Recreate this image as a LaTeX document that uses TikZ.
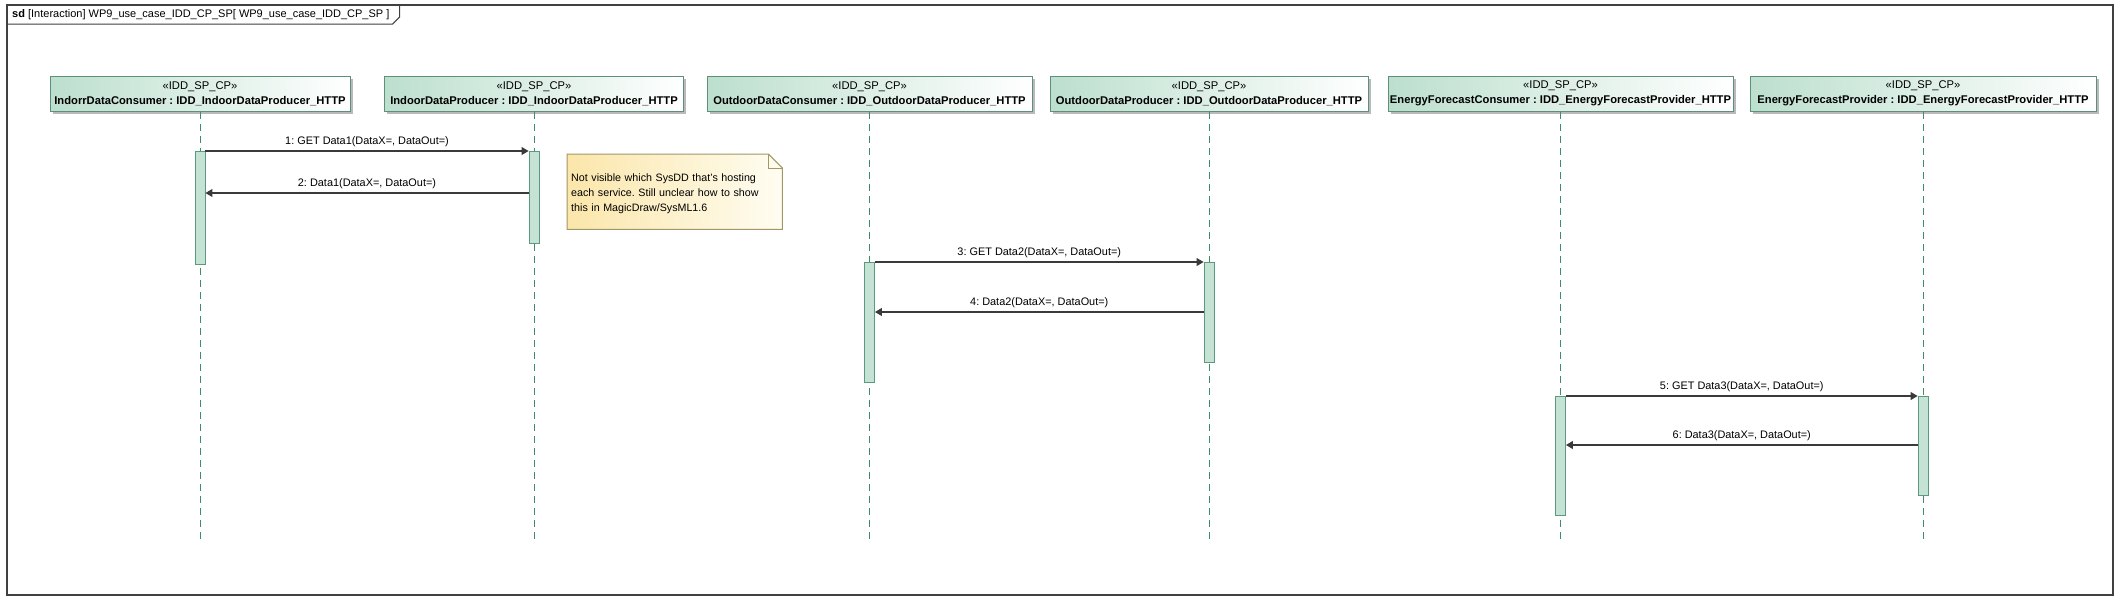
\documentclass[tikz,border=0pt]{standalone}
\usepackage{fontspec}
\setmainfont{Liberation Sans}
\usetikzlibrary{shadows,arrows.meta,backgrounds}
\definecolor{frameC}{HTML}{404040}
\definecolor{headL}{HTML}{BCDFCE}
\definecolor{headB}{HTML}{5E8F7B}
\definecolor{lifeC}{HTML}{3E8E6E}
\definecolor{barF}{HTML}{C4E3D4}
\definecolor{barB}{HTML}{5C9A7F}
\definecolor{noteL}{HTML}{FBE6AA}
\definecolor{noteR}{HTML}{FFFDF2}
\definecolor{noteB}{HTML}{A39766}
\definecolor{msgC}{HTML}{3A3A3A}
\tikzset{
  headbox/.style={draw=headB, line width=1pt, left color=headL, right color=white,
    minimum height=35pt, inner sep=0pt, align=center,
    font=\fontsize{11.2}{15}\selectfont,
    drop shadow={shadow xshift=2.5pt, shadow yshift=-2.5pt, fill=black!45, opacity=0.6}},
  lifeline/.style={draw=lifeC, line width=0.8pt, dash pattern=on 7pt off 5pt},
  actbar/.style={draw=barB, fill=barF, line width=0.9pt, minimum width=10pt, inner sep=0pt, anchor=north},
  msg/.style={draw=msgC, line width=1.1pt, -{Triangle[length=7pt,width=8pt]}},
  msglabel/.style={midway, above=2.5pt, font=\fontsize{10.9}{12}\selectfont, inner sep=1pt},
  framebox/.style={draw=frameC, line width=1.5pt},
  notetext/.style={anchor=north west, minimum width=215pt, minimum height=75pt, text width=207pt,
    inner xsep=4pt, inner ysep=0pt, align=left, font=\fontsize{10.7}{15}\selectfont}
}
\begin{document}
\frenchspacing
\begin{tikzpicture}[x=1pt,y=-1pt]
\useasboundingbox (0,0) rectangle (2119,600);
\begin{scope}[on background layer]
\fill[white] (0,0) rectangle (2119,600);
\end{scope}
% frame
\draw[framebox] (7,5) rectangle (2113,595);
\node[anchor=west, inner sep=0pt, font=\fontsize{11}{12}\selectfont] (title) at (12,14.5)
  {\textbf{sd} [Interaction] WP9\_use\_case\_IDD\_CP\_SP[ WP9\_use\_case\_IDD\_CP\_SP ]};
\coordinate (tabA) at ([xshift=3pt]title.east |- 0,24);
\coordinate (tabB) at ([xshift=10pt]title.east |- 0,17);
\coordinate (tabC) at ([xshift=10pt]title.east |- 0,5);
\draw[draw=frameC, line width=1pt] (7,24) -- (tabA) -- (tabB) -- (tabC);

% lifeline heads
\node[headbox, minimum width=300pt] (h1) at (200,93.5) {«IDD\_SP\_CP»\\\textbf{IndorrDataConsumer : IDD\_IndoorDataProducer\_HTTP}};
\node[headbox, minimum width=299pt] (h2) at (534,93.5) {«IDD\_SP\_CP»\\\textbf{IndoorDataProducer : IDD\_IndoorDataProducer\_HTTP}};
\node[headbox, minimum width=325pt] (h3) at (869.5,93.5) {«IDD\_SP\_CP»\\\textbf{OutdoorDataConsumer : IDD\_OutdoorDataProducer\_HTTP}};
\node[headbox, minimum width=318pt] (h4) at (1209,93.5) {«IDD\_SP\_CP»\\\textbf{OutdoorDataProducer : IDD\_OutdoorDataProducer\_HTTP}};
\node[headbox, minimum width=345pt] (h5) at (1560.5,93.5) {«IDD\_SP\_CP»\\\textbf{EnergyForecastConsumer : IDD\_EnergyForecastProvider\_HTTP}};
\node[headbox, minimum width=346pt] (h6) at (1923,93.5) {«IDD\_SP\_CP»\\\textbf{EnergyForecastProvider : IDD\_EnergyForecastProvider\_HTTP}};

% lifeline ends
\coordinate (e1) at (200,540);
\coordinate (e2) at (534,540);
\coordinate (e3) at (869.5,540);
\coordinate (e4) at (1209,540);
\coordinate (e5) at (1560.5,540);
\coordinate (e6) at (1923,540);
\foreach \i in {1,...,6} {\draw[lifeline] (h\i.south) -- (e\i);}

% activation bars
\node[actbar, minimum height=113pt] (b1) at (200,151) {};
\node[actbar, minimum height=92pt] (b2) at (534,151) {};
\node[actbar, minimum height=120pt] (b3) at (869.5,262) {};
\node[actbar, minimum height=100pt] (b4) at (1209,262) {};
\node[actbar, minimum height=119pt] (b5) at (1560.5,396) {};
\node[actbar, minimum height=99pt] (b6) at (1923,396) {};

% messages
\draw[msg] (b1.north east) -- (b2.north west) node[msglabel] {1: GET Data1(DataX=, DataOut=)};
\draw[msg] ([yshift=-42pt]b2.north west) -- ([yshift=-42pt]b1.north east) node[msglabel] {2: Data1(DataX=, DataOut=)};
\draw[msg] (b3.north east) -- (b4.north west) node[msglabel] {3: GET Data2(DataX=, DataOut=)};
\draw[msg] ([yshift=-50pt]b4.north west) -- ([yshift=-50pt]b3.north east) node[msglabel] {4: Data2(DataX=, DataOut=)};
\draw[msg] (b5.north east) -- (b6.north west) node[msglabel] {5: GET Data3(DataX=, DataOut=)};
\draw[msg] ([yshift=-49pt]b6.north west) -- ([yshift=-49pt]b5.north east) node[msglabel] {6: Data3(DataX=, DataOut=)};

% note
\node[notetext] (note) at (567,154) {\\[-3pt]Not visible which SysDD that's hosting\\each service. Still unclear how to show\\this in MagicDraw/SysML1.6};
\begin{scope}[on background layer]
  \fill[black!45, opacity=0.6, xshift=2.5pt, yshift=-2.5pt]
    (note.north west) -- ([xshift=-14pt]note.north east) -- ([yshift=-14pt]note.north east)
    -- (note.south east) -- (note.south west) -- cycle;
  \shade[left color=noteL, right color=noteR]
    (note.north west) -- ([xshift=-14pt]note.north east) -- ([yshift=-14pt]note.north east)
    -- (note.south east) -- (note.south west) -- cycle;
  \draw[noteB, line width=1pt]
    (note.north west) -- ([xshift=-14pt]note.north east) -- ([yshift=-14pt]note.north east)
    -- (note.south east) -- (note.south west) -- cycle;
  \draw[noteB, line width=0.8pt] ([xshift=-14pt]note.north east) -- ([xshift=-14pt,yshift=-14pt]note.north east) -- ([yshift=-14pt]note.north east);
\end{scope}
\end{tikzpicture}
\end{document}
